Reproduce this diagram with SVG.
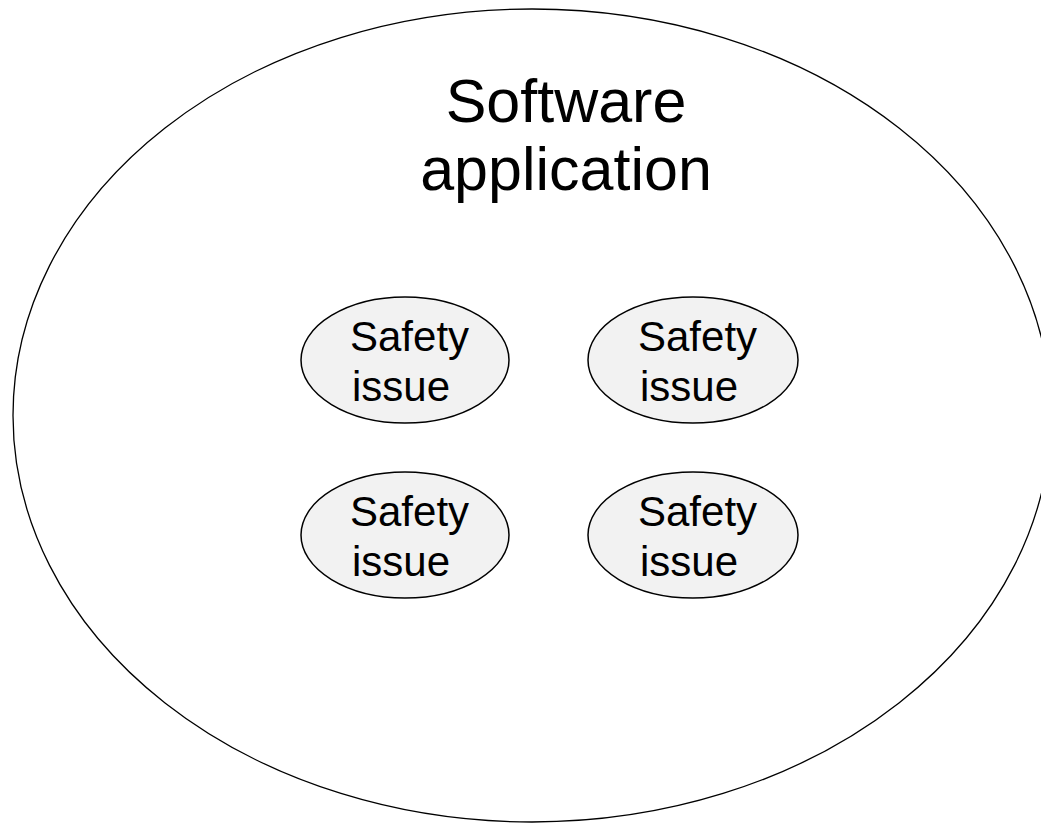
<svg xmlns="http://www.w3.org/2000/svg" width="1041" height="824" viewBox="0 0 1041 824">
<style>
.outer{fill:#ffffff;stroke:#000000;stroke-width:1.3}
.issue{fill:#f2f2f2;stroke:#000000;stroke-width:1.5}
.t{font-family:"Liberation Sans",Arial,sans-serif;fill:#000000}
.title{font-size:61px;text-anchor:middle}
.small{font-size:42px}
</style>
<rect width="1041" height="824" fill="#ffffff"/>
<g id="app">
<ellipse class="outer" cx="532" cy="415.5" rx="519" ry="406.5"/>
<text class="t title" x="566" y="122">Software</text>
<text class="t title" x="566" y="190">application</text>
</g>
<g id="issue1">
<ellipse class="issue" cx="405" cy="360" rx="104" ry="63"/>
<text class="t small" x="350" y="351">Safety</text>
<text class="t small" x="352" y="401">issue</text>
</g>
<g id="issue2">
<ellipse class="issue" cx="693" cy="360" rx="105" ry="63"/>
<text class="t small" x="638" y="351">Safety</text>
<text class="t small" x="640" y="401">issue</text>
</g>
<g id="issue3">
<ellipse class="issue" cx="405" cy="535" rx="104" ry="63"/>
<text class="t small" x="350" y="526">Safety</text>
<text class="t small" x="352" y="576">issue</text>
</g>
<g id="issue4">
<ellipse class="issue" cx="693" cy="535" rx="105" ry="63"/>
<text class="t small" x="638" y="526">Safety</text>
<text class="t small" x="640" y="576">issue</text>
</g>
<g id="connectors"/>
</svg>
